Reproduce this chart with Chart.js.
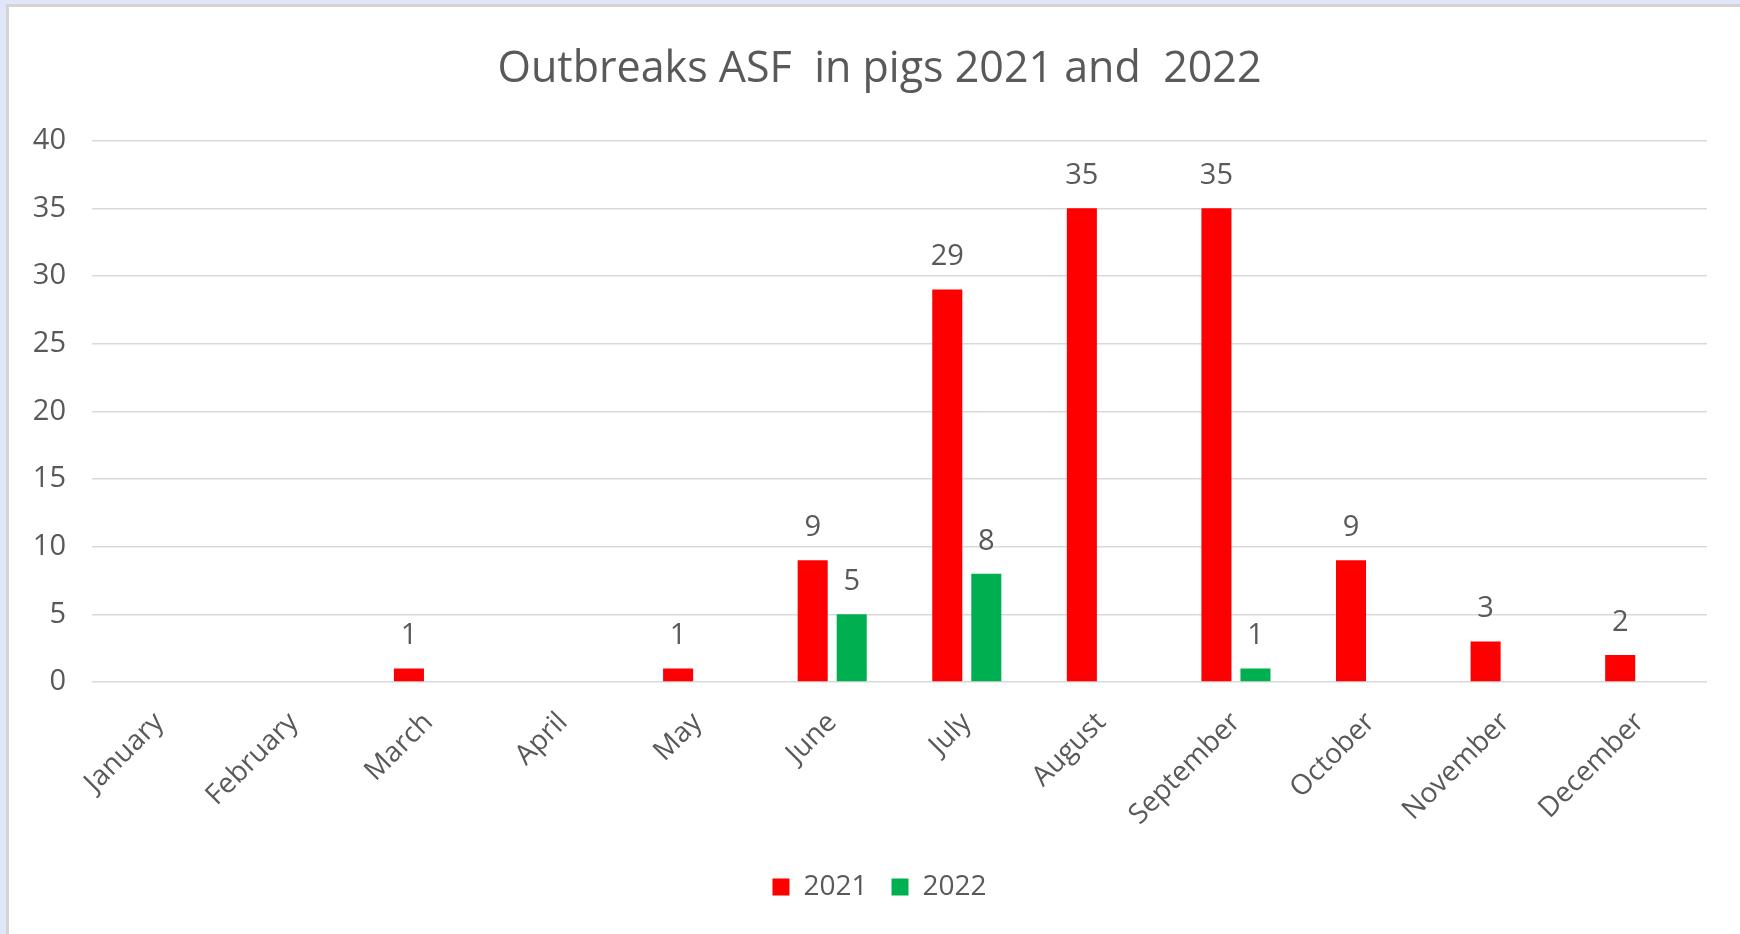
<!DOCTYPE html>
<html>
<head>
<meta charset="utf-8">
<script src="https://cdn.jsdelivr.net/npm/chart.js@4/dist/chart.umd.min.js"></script>
<style>
  html, body { margin: 0; padding: 0; }
  body { width: 1740px; height: 934px; background: #dfe6f8; overflow: hidden; position: relative; }
  #frame {
    position: absolute; left: 6px; top: 4px; right: 0; bottom: 0;
    background: #fff;
    border-left: 3px solid #d4d4d4;
    border-top: 3px solid #d4d4d4;
  }
  #chartBox { position: absolute; left: 0; top: 0; width: 1731px; height: 927px; }
</style>
</head>
<body>
<div id="frame"><div id="chartBox"><canvas id="asfChart"></canvas></div></div>
<script>
const months = ["January", "February", "March", "April", "May", "June", "July", "August", "September", "October", "November", "December"];

const outbreaks2021 = [null, null, 1, null, 1, 9, 29, 35, 35, 9, 3, 2];
const outbreaks2022 = [null, null, null, null, null, 5, 8, null, 1, null, null, null];

const yTicks = [0, 5, 10, 15, 20, 25, 30, 35, 40];

const textGrey = "#595959";
const fontName = "'Open Sans', sans-serif";

// value labels above each bar (no datalabels plugin offline)
const barValueLabels = {
  id: "barValueLabels",
  afterDatasetsDraw(chart) {
    const ctx = chart.ctx;
    ctx.save();
    ctx.font = "29px " + fontName;
    ctx.fillStyle = textGrey;
    ctx.textAlign = "center";
    ctx.textBaseline = "alphabetic";
    chart.data.datasets.forEach((ds, i) => {
      const meta = chart.getDatasetMeta(i);
      meta.data.forEach((bar, j) => {
        const v = ds.data[j];
        if (v === null || v === undefined) return;
        ctx.fillText(String(v), bar.x, bar.y - 24);
      });
    });
    ctx.restore();
  }
};

const asfCTX = document.getElementById("asfChart");

new Chart(asfCTX, {
  type: "bar",
  data: {
    labels: months,
    datasets: [
      {
        label: "2021",
        data: outbreaks2021,
        backgroundColor: "#ff0000",
        categoryPercentage: 0.58,
        barPercentage: 0.77
      },
      {
        label: "2022",
        data: outbreaks2022,
        backgroundColor: "#00b050",
        categoryPercentage: 0.58,
        barPercentage: 0.77
      }
    ]
  },
  options: {
    responsive: true,
    maintainAspectRatio: false,
    animation: false,
    layout: {
      padding: { left: 10, right: 0, top: 0, bottom: 23 }
    },
    plugins: {
      title: {
        display: true,
        text: "Outbreaks ASF  in pigs 2021 and  2022",
        color: textGrey,
        font: { family: fontName, size: 43, weight: "normal" },
        padding: { top: 37, bottom: 45 }
      },
      legend: {
        position: "bottom",
        labels: {
          boxWidth: 17,
          boxHeight: 17,
          padding: 24,
          color: textGrey,
          font: { family: fontName, size: 28 }
        }
      },
      tooltip: { enabled: false }
    },
    scales: {
      x: {
        grid: { display: false },
        border: { display: false },
        ticks: {
          color: textGrey,
          font: { family: fontName, size: 28 },
          minRotation: 45,
          maxRotation: 45,
          autoSkip: false,
          padding: 16
        },
        afterFit(scale) {
          scale.height = 167;
        }
      },
      y: {
        min: 0,
        max: 40,
        afterBuildTicks(scale) {
          scale.ticks = yTicks.map((v) => ({ value: v }));
        },
        grid: {
          color: "#d9d9d9",
          lineWidth: 1.5,
          drawTicks: false
        },
        border: { display: false },
        ticks: {
          color: textGrey,
          font: { family: fontName, size: 29 },
          padding: 26
        },
        afterFit(scale) {
          scale.width = 73;
        }
      },
      // empty right-hand axis, only keeps the plot area off the right edge
      yRight: {
        position: "right",
        grid: { display: false },
        border: { display: false },
        ticks: { display: false },
        afterFit(scale) {
          scale.width = 33;
        }
      }
    }
  },
  plugins: [barValueLabels]
});
</script>
</body>
</html>
